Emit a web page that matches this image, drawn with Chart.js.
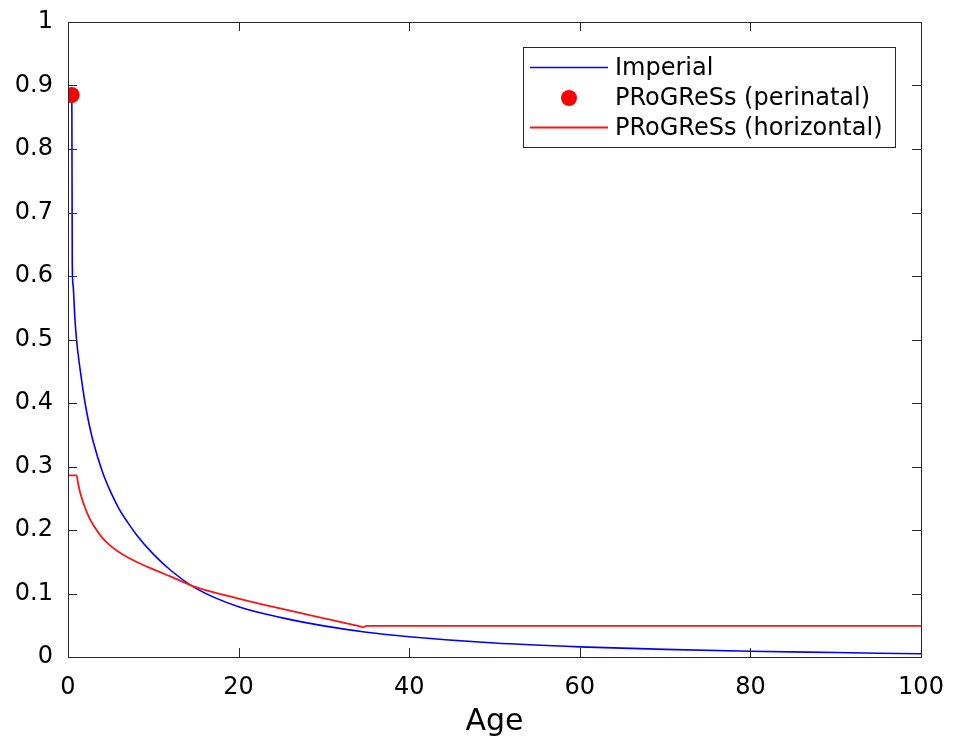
<!DOCTYPE html>
<html>
<head>
<meta charset="utf-8">
<script src="https://cdn.jsdelivr.net/npm/chart.js@4/dist/chart.umd.min.js"></script>
<style>
html,body{margin:0;padding:0;background:#fff;}
#wrap{width:956px;height:736px;}
</style>
</head>
<body>
<div id="wrap"><canvas id="c" width="956" height="736"></canvas></div>
<script>
// ---- data ----
const imperialAge   = [0.45, 0.5, 0.6, 0.8, 1.0, 1.5, 2.0, 2.5, 3.0, 4.0, 5.0, 6.0, 7.0, 8.0, 10.0, 12.0, 15.0, 20.0, 25.0, 30.0, 35.0, 40.0, 50, 60, 70, 80, 90, 100];
const imperialValue = [0.885, 0.62, 0.585, 0.535, 0.50, 0.445, 0.40, 0.365, 0.337, 0.293, 0.26, 0.233, 0.212, 0.193, 0.162, 0.137, 0.108, 0.079, 0.062, 0.049, 0.039, 0.032, 0.022, 0.016, 0.012, 0.009, 0.007, 0.005];

const perinatalAge   = [0.43];
const perinatalValue = [0.885];

const horizontalAge   = [0, 1.0, 1.2, 1.5, 2.0, 2.5, 3.0, 4.0, 5.0, 6.0, 8.0, 10.0, 12.0, 15.0, 20.0, 25.0, 30.0, 32.0, 34.0, 34.6, 35.0, 100];
const horizontalValue = [0.286, 0.286, 0.272, 0.255, 0.235, 0.219, 0.207, 0.188, 0.175, 0.165, 0.150, 0.138, 0.127, 0.110, 0.092, 0.076, 0.061, 0.055, 0.049, 0.047, 0.049, 0.049];

const xTicks = [0, 20, 40, 60, 80, 100];
const yTicks = [0, 0.1, 0.2, 0.3, 0.4, 0.5, 0.6, 0.7, 0.8, 0.9, 1];
const xLabel = 'Age';
const seriesLabels = ['Imperial', 'PRoGReSs (perinatal)', 'PRoGReSs (horizontal)'];

const FONT = '"DejaVu Sans", sans-serif';
const toPts = (xs, ys) => xs.map((x, i) => ({x: x, y: ys[i]}));

// box + inward ticks + legend
const matlabAxes = {
  id: 'matlabAxes',
  afterDatasetsDraw(chart) {
    const {ctx, chartArea: a, scales: {x, y}} = chart;
    ctx.save();
    ctx.strokeStyle = '#262626';
    ctx.lineWidth = 1;
    const L = 9;
    ctx.beginPath();
    xTicks.forEach(v => {
      const px = Math.round(x.getPixelForValue(v)) + 0.5;
      ctx.moveTo(px, a.bottom); ctx.lineTo(px, a.bottom - L);
      ctx.moveTo(px, a.top); ctx.lineTo(px, a.top + L);
    });
    yTicks.forEach(v => {
      const py = Math.round(y.getPixelForValue(v)) + 0.5;
      ctx.moveTo(a.left, py); ctx.lineTo(a.left + L, py);
      ctx.moveTo(a.right, py); ctx.lineTo(a.right - L, py);
    });
    ctx.stroke();
    ctx.strokeRect(Math.round(a.left) + 0.5, Math.round(a.top) + 0.5, Math.round(a.right - a.left), Math.round(a.bottom - a.top));

    // legend
    const bx = 523.5, by = 47.5, bw = 372, bh = 100;
    ctx.fillStyle = '#fff';
    ctx.fillRect(bx, by, bw, bh);
    ctx.strokeStyle = '#262626';
    ctx.strokeRect(bx, by, bw, bh);
    const rows = [67.5, 98, 127.5];
    const ds = chart.data.datasets;
    ctx.font = '24px ' + FONT;
    ctx.textBaseline = 'middle';
    ctx.textAlign = 'left';
    rows.forEach((ry, i) => {
      const d = ds[i];
      if (d.showLine) {
        ctx.strokeStyle = d.borderColor;
        ctx.lineWidth = d.borderWidth;
        ctx.beginPath();
        ctx.moveTo(530, ry); ctx.lineTo(608, ry);
        ctx.stroke();
      } else {
        ctx.fillStyle = d.pointBackgroundColor;
        ctx.beginPath();
        ctx.arc(569, ry, d.pointRadius, 0, Math.PI * 2);
        ctx.fill();
      }
      ctx.fillStyle = '#000';
      ctx.fillText(d.label, 615, ry + 1);
    });
    ctx.restore();
  }
};

new Chart(document.getElementById('c'), {
  type: 'scatter',
  data: {
    datasets: [
      {label: seriesLabels[0], data: toPts(imperialAge, imperialValue), showLine: true, borderColor: 'rgb(0,0,255)', borderWidth: 1.6, pointRadius: 0, cubicInterpolationMode: 'monotone', order: 2},
      {label: seriesLabels[1], data: toPts(perinatalAge, perinatalValue), showLine: false, pointRadius: 8, pointBackgroundColor: 'rgb(255,0,0)', pointBorderColor: 'rgb(255,0,0)', pointBorderWidth: 0, order: 0},
      {label: seriesLabels[2], data: toPts(horizontalAge, horizontalValue), showLine: true, borderColor: 'rgb(255,20,20)', borderWidth: 1.8, pointRadius: 0, cubicInterpolationMode: 'monotone', order: 1}
    ]
  },
  options: {
    responsive: false,
    animation: false,
    layout: {padding: {left: 0, top: 22, right: 35, bottom: 0}},
    plugins: {legend: {display: false}, tooltip: {enabled: false}},
    scales: {
      x: {
        type: 'linear', min: 0, max: 100,
        afterBuildTicks: s => { s.ticks = xTicks.map(v => ({value: v})); },
        afterFit: s => { s.height = 79; s.paddingLeft = 0; s.paddingRight = 0; },
        grid: {display: false, drawTicks: false},
        border: {display: false},
        ticks: {color: '#000', font: {family: FONT, size: 24}, padding: 16, maxRotation: 0, callback: v => String(v)},
        title: {display: true, text: xLabel, color: '#000', font: {family: FONT, size: 30}, padding: {top: 3, bottom: -4}}
      },
      y: {
        type: 'linear', min: 0, max: 1,
        afterBuildTicks: s => { s.ticks = yTicks.map(v => ({value: v})); },
        afterFit: s => { s.width = 68; s.paddingTop = 0; s.paddingBottom = 0; },
        grid: {display: false, drawTicks: false},
        border: {display: false},
        ticks: {color: '#000', font: {family: FONT, size: 24}, padding: 15, callback: v => (v === 0 || v === 1) ? String(v) : v.toFixed(1)}
      }
    }
  },
  plugins: [matlabAxes]
});
</script>
</body>
</html>
